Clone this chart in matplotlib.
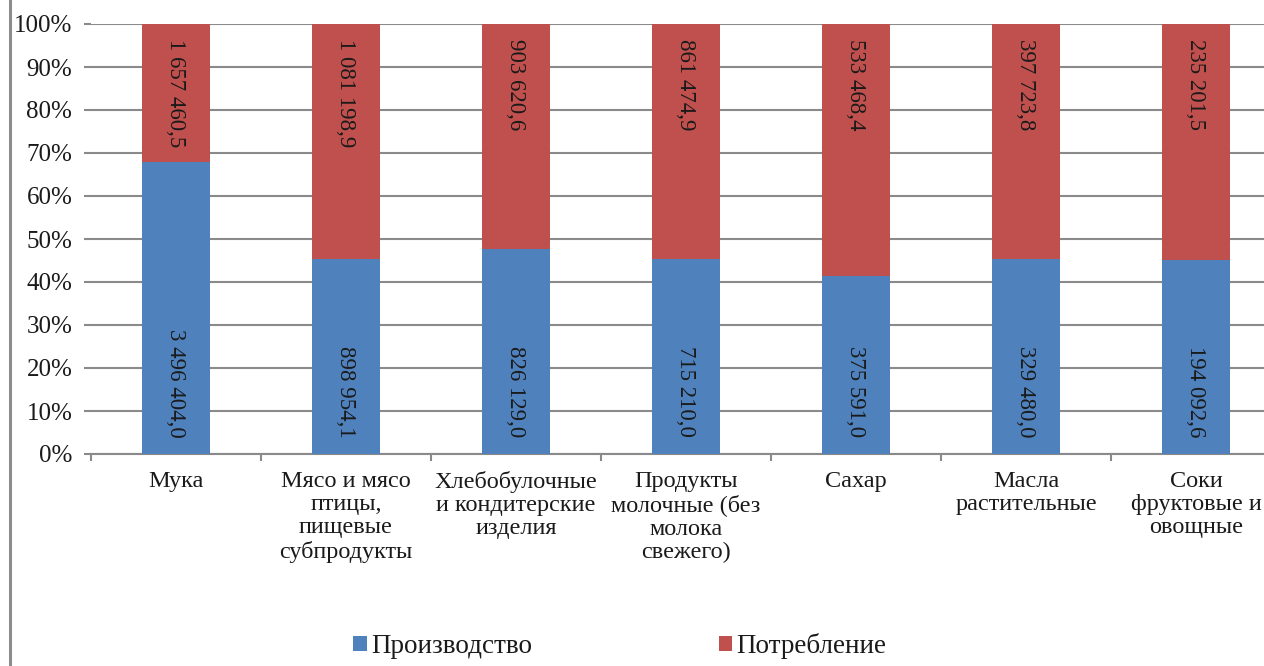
import matplotlib
matplotlib.use("Agg")
import matplotlib.pyplot as plt
from matplotlib.patches import Patch
from matplotlib.lines import Line2D
import numpy as np

categories = [
    "Мука",
    "Мясо и мясо\nптицы,\nпищевые\nсубпродукты",
    "Хлебобулочные\nи кондитерские\nизделия",
    "Продукты\nмолочные (без\nмолока\nсвежего)",
    "Сахар",
    "Масла\nрастительные",
    "Соки\nфруктовые и\nовощные",
]
production = [3496404.0, 898954.1, 826129.0, 715210.0, 375591.0, 329480.0, 194092.6]
consumption = [1657460.5, 1081198.9, 903620.6, 861474.9, 533468.4, 397723.8, 235201.5]
series_names = ["Производство", "Потребление"]

BLUE = "#4F81BD"
RED = "#C0504D"
GRID = "#8A8A8A"
TEXT = "#1a1a1a"

plt.rcParams["font.family"] = ["Liberation Serif", "DejaVu Serif"]

W, H = 1264, 666
fig = plt.figure(figsize=(W / 100, H / 100), dpi=100)
ax = fig.add_axes([91 / W, 1 - 454 / H, 1190 / W, 430 / H])

prod = np.array(production)
cons = np.array(consumption)
total = prod + cons
p_share = prod / total
c_share = cons / total
x = np.arange(len(categories))

ax.bar(x, p_share, width=0.4, color=BLUE, zorder=3)
ax.bar(x, c_share, width=0.4, bottom=p_share, color=RED, zorder=3)


def fmt(v):
    whole = int(v)
    frac = int(round((v - whole) * 10))
    s = f"{whole:,}".replace(",", " ")
    return f"{s},{frac}"


label_size = 16.5
for xi, pv, cv in zip(x, production, consumption):
    ax.annotate(fmt(pv), xy=(xi, 0), xytext=(0, 12), textcoords="offset points",
                rotation=270, ha="center", va="bottom", fontsize=label_size,
                color=TEXT, zorder=4)
    ax.annotate(fmt(cv), xy=(xi, 1.0), xytext=(0, -11), textcoords="offset points",
                rotation=270, ha="center", va="top", fontsize=label_size,
                color=TEXT, zorder=4)

ax.set_xlim(-0.5, len(categories) - 0.5)
ax.set_ylim(0, 1)
yt = np.arange(0, 1.01, 0.1)
ax.set_yticks(yt)
ax.set_yticklabels([f"{int(round(t * 100))}%" for t in yt])
ax.yaxis.grid(True, color=GRID, linewidth=1.5, zorder=0)
ax.set_axisbelow(True)

ax.set_xticks(x)
ax.set_xticklabels(categories, fontsize=17.5, color=TEXT, linespacing=1.15)
ax.set_xticks(np.arange(-0.5, len(categories), 1.0), minor=True)
ax.tick_params(axis="x", which="major", length=0, pad=12)
ax.tick_params(axis="x", which="minor", length=5, width=1.5, color=GRID, direction="out")
ax.tick_params(axis="y", length=5, width=1.5, color=GRID, direction="out",
               labelsize=18, labelcolor=TEXT, pad=8.5)

for side in ("top", "right", "left"):
    ax.spines[side].set_visible(False)
ax.spines["bottom"].set_color(GRID)
ax.spines["bottom"].set_linewidth(1.5)

# Left frame line of the chart area
fig.add_artist(Line2D([10.5 / W, 10.5 / W], [0, 1], transform=fig.transFigure,
                      color="#8C8C8C", linewidth=2.2))

handles = [Patch(facecolor=BLUE), Patch(facecolor=RED)]
fig.legend(handles, series_names, loc="center", bbox_to_anchor=(620 / W, 1 - 646 / H),
           ncol=2, frameon=False, fontsize=19.5, handlelength=0.5, handleheight=0.5,
           handletextpad=0.15, columnspacing=6.9, labelcolor=TEXT,
           borderpad=0, borderaxespad=0)

fig.savefig("out.png", dpi=100, facecolor="white")
